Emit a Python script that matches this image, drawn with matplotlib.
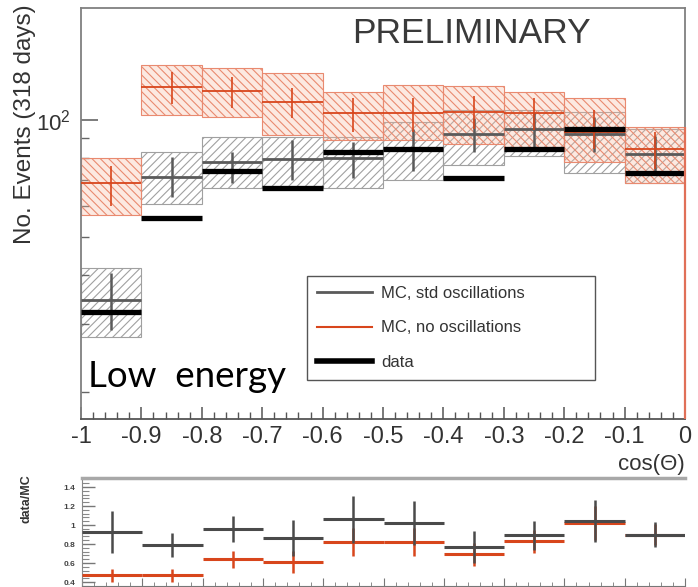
import matplotlib
matplotlib.use("Agg")
import numpy as np
import matplotlib.pyplot as plt
from matplotlib.lines import Line2D
from matplotlib.ticker import FixedLocator, MultipleLocator, NullFormatter, FixedFormatter

# ---- binned zenith-angle data (cos(Theta) from -1 to 0, 10 bins) ----
cos_edges = [-1.0, -0.9, -0.8, -0.7, -0.6, -0.5, -0.4, -0.3, -0.2, -0.1, 0.0]
x_tick_labels = ["-1", "-0.9", "-0.8", "-0.7", "-0.6", "-0.5", "-0.4", "-0.3", "-0.2", "-0.1", "0"]

data_events = [32.2, 56.1, 74, 67, 83, 84, 71, 84, 95, 73]

mc_std = [34.6, 71.4, 78, 79.5, 80, 84, 92, 95, 92, 82]
mc_std_stat_lo = [29, 63.5, 69, 70, 71, 74, 83, 85, 83, 73]
mc_std_stat_hi = [40.5, 80.3, 83, 89, 88, 95, 101, 105, 102, 91]
mc_std_sys_lo = [27.8, 60.9, 67, 67, 67, 70, 76.5, 81, 73, 69]
mc_std_sys_hi = [41.7, 82.8, 90.5, 90.5, 90.5, 99, 106, 106, 105, 95]

mc_noosc = [69, 121.5, 118.7, 111, 104, 104, 105, 104, 93, 84]
mc_noosc_stat_lo = [60, 110, 107, 101, 93, 93, 95, 94, 84, 75]
mc_noosc_stat_hi = [76, 133, 129, 121, 114, 114, 115, 114, 106, 93]
mc_noosc_sys_lo = [57, 103, 102, 91.5, 89, 89, 87, 84, 78, 69]
mc_noosc_sys_hi = [80, 138, 136, 132, 118, 123, 122, 118, 114, 96]

# data / MC ratios
ratio_std = [0.93, 0.79, 0.96, 0.86, 1.06, 1.02, 0.77, 0.89, 1.04, 0.90]
ratio_std_err = [0.22, 0.13, 0.14, 0.19, 0.25, 0.23, 0.17, 0.15, 0.22, 0.13]
ratio_noosc = [0.47, 0.47, 0.64, 0.61, 0.82, 0.82, 0.69, 0.83, 1.02, 0.90]
ratio_noosc_err = [0.07, 0.07, 0.09, 0.12, 0.15, 0.15, 0.12, 0.12, 0.18, 0.11]
ratio_tick_values = [0.4, 0.6, 0.8, 1.0, 1.2, 1.4]
ratio_tick_labels = ["0.4", "0.6", "0.8", "1", "1.2", "1.4"]

# ---- styling ----
plt.rcParams["font.family"] = ["Liberation Sans", "DejaVu Sans"]
plt.rcParams["mathtext.fontset"] = "custom"
plt.rcParams["mathtext.rm"] = "Liberation Sans"
plt.rcParams["hatch.linewidth"] = 0.8

TXT = "#333333"
GRAY_LINE = "#5a5a5a"
GRAY_HATCH = "#a0a0a0"
RED_LINE = "#d8461c"
RED_HATCH = "#e98a70"
RED_FILL = (0.97, 0.72, 0.62, 0.30)
SPINE = "#808080"

W, H = 698, 587
fig = plt.figure(figsize=(W / 100, H / 100), dpi=100)


def axes_px(left, top, right, bottom):
    return fig.add_axes([left / W, 1 - bottom / H, (right - left) / W, (bottom - top) / H])


ax = axes_px(81, 8, 685, 419)
rax = axes_px(82, 478, 685, 586)

edges = np.array(cos_edges)
lo_e, hi_e = edges[:-1], edges[1:]
centers = 0.5 * (lo_e + hi_e)
width = hi_e - lo_e

# systematic bands
ax.bar(centers, np.array(mc_std_sys_hi) - np.array(mc_std_sys_lo), bottom=mc_std_sys_lo,
       width=width, facecolor="none", edgecolor=GRAY_HATCH, hatch="////", linewidth=0.8, zorder=1)
ax.bar(centers, np.array(mc_noosc_sys_hi) - np.array(mc_noosc_sys_lo), bottom=mc_noosc_sys_lo,
       width=width, facecolor=RED_FILL, edgecolor=RED_HATCH, hatch="\\\\\\\\", linewidth=0.8, zorder=2)

# MC central values with statistical bars
ax.hlines(mc_std, lo_e, hi_e, color=GRAY_LINE, lw=2.0, zorder=4)
ax.vlines(centers, mc_std_stat_lo, mc_std_stat_hi, color=GRAY_LINE, lw=1.8, zorder=4)
ax.hlines(mc_noosc, lo_e, hi_e, color=RED_LINE, lw=1.3, zorder=5)
ax.vlines(centers, mc_noosc_stat_lo, mc_noosc_stat_hi, color=RED_LINE, lw=1.2, zorder=5)

# data
ax.hlines(data_events, lo_e, hi_e, color="black", lw=3.8, zorder=6)

ymin, ymax = 17.1, 193.7
ax.set_xlim(cos_edges[0], cos_edges[-1])
ax.set_yscale("log")
ax.set_ylim(ymin, ymax)

# closing edge of the no-oscillation histogram at cos = 0
ax.vlines(cos_edges[-1], ymin, mc_noosc_sys_hi[-1], color="#e07058", lw=1.6, zorder=7, clip_on=False)

for s in ax.spines.values():
    s.set_color(SPINE)
    s.set_linewidth(1.3)
ax.spines["bottom"].set_color("#555555")

ax.yaxis.set_major_locator(FixedLocator([100]))
ax.yaxis.set_major_formatter(FixedFormatter([r"$10^{2}$"]))
ax.yaxis.set_minor_locator(FixedLocator([20, 30, 40, 50, 60, 70, 80, 90]))
ax.yaxis.set_minor_formatter(NullFormatter())
ax.tick_params(axis="y", which="major", direction="in", length=12, width=1.2, color="#666666",
               labelsize=16, labelcolor=TXT, pad=7)
ax.tick_params(axis="y", which="minor", direction="in", length=6, width=1.0, color="#666666")

ax.xaxis.set_major_locator(FixedLocator(cos_edges))
ax.xaxis.set_major_formatter(FixedFormatter(x_tick_labels))
ax.xaxis.set_minor_locator(MultipleLocator(0.02))
ax.tick_params(axis="x", which="major", direction="in", length=9, width=1.1, color="#555555",
               labelsize=17, labelcolor=TXT, pad=5)
ax.tick_params(axis="x", which="minor", direction="in", length=5, width=1.0, color="#555555")

ax.text(1.0, -0.085, "cos(Θ)", transform=ax.transAxes, ha="right", va="top",
        fontsize=16, color=TXT)
ax.text(0.646, 0.915, "PRELIMINARY", transform=ax.transAxes, ha="center", va="baseline",
        fontsize=25.5, color="#3a3a3a")
ax.text(0.012, 0.078, "Low  energy", transform=ax.transAxes, ha="left", va="baseline",
        fontsize=26.5, color="black", family=["Lato", "DejaVu Sans"])

fig.text(25 / W, 1 - 124 / H, "No. Events (318 days)", rotation=90, ha="center", va="center",
         fontsize=17.5, color=TXT)

handles = [
    Line2D([], [], color=GRAY_LINE, lw=2.0),
    Line2D([], [], color=RED_LINE, lw=1.5),
    Line2D([], [], color="black", lw=4.0),
]
leg = ax.legend(handles, ["MC, std oscillations", "MC, no oscillations", "data"],
                loc="lower left", bbox_to_anchor=(0.374, 0.095, 0.477, 0.26), mode="expand",
                borderaxespad=0, fontsize=12, handlelength=3.3, handletextpad=0.55,
                labelspacing=1.15, borderpad=0.62, fancybox=False, framealpha=1,
                edgecolor="#555555", labelcolor=TXT)
leg.get_frame().set_linewidth(1.0)
leg.set_zorder(10)

# ---- ratio panel ----
rax.hlines(ratio_noosc, lo_e, hi_e, color=RED_LINE, lw=2.2, zorder=3)
rax.vlines(centers, np.array(ratio_noosc) - np.array(ratio_noosc_err),
           np.array(ratio_noosc) + np.array(ratio_noosc_err), color=RED_LINE, lw=1.8, zorder=3)
rax.hlines(ratio_std, lo_e, hi_e, color="#4a4a4a", lw=2.2, zorder=4)
rax.vlines(centers, np.array(ratio_std) - np.array(ratio_std_err),
           np.array(ratio_std) + np.array(ratio_std_err), color="#4a4a4a", lw=1.8, zorder=4)

rax.set_xlim(cos_edges[0], cos_edges[-1])
rax.set_ylim(0.358, 1.495)
rax.spines["right"].set_visible(False)
rax.spines["top"].set_color("#a8a8a8")
rax.spines["top"].set_linewidth(2.5)
rax.spines["left"].set_color("#888888")
rax.spines["bottom"].set_color("#777777")

rax.yaxis.set_major_locator(FixedLocator(ratio_tick_values))
rax.yaxis.set_major_formatter(FixedFormatter(ratio_tick_labels))
rax.yaxis.set_minor_locator(MultipleLocator(0.04))
rax.tick_params(axis="y", which="major", direction="in", length=9, width=1.0, color="#777777",
                labelsize=6, labelcolor="#444444", pad=5)
rax.tick_params(axis="y", which="minor", direction="in", length=5, width=0.8, color="#888888")
for lab in rax.get_yticklabels():
    lab.set_fontweight("bold")
rax.xaxis.set_major_locator(FixedLocator(cos_edges))
rax.xaxis.set_minor_locator(MultipleLocator(0.02))
rax.xaxis.set_major_formatter(NullFormatter())
rax.tick_params(axis="x", which="major", direction="in", length=6, color="#777777")
rax.tick_params(axis="x", which="minor", direction="in", length=3, color="#777777")

fig.text(26 / W, 1 - 499 / H, "data/MC", rotation=90, ha="center", va="center",
         fontsize=9, fontweight="bold", color="#333333")

fig.savefig("out.png", dpi=100)
